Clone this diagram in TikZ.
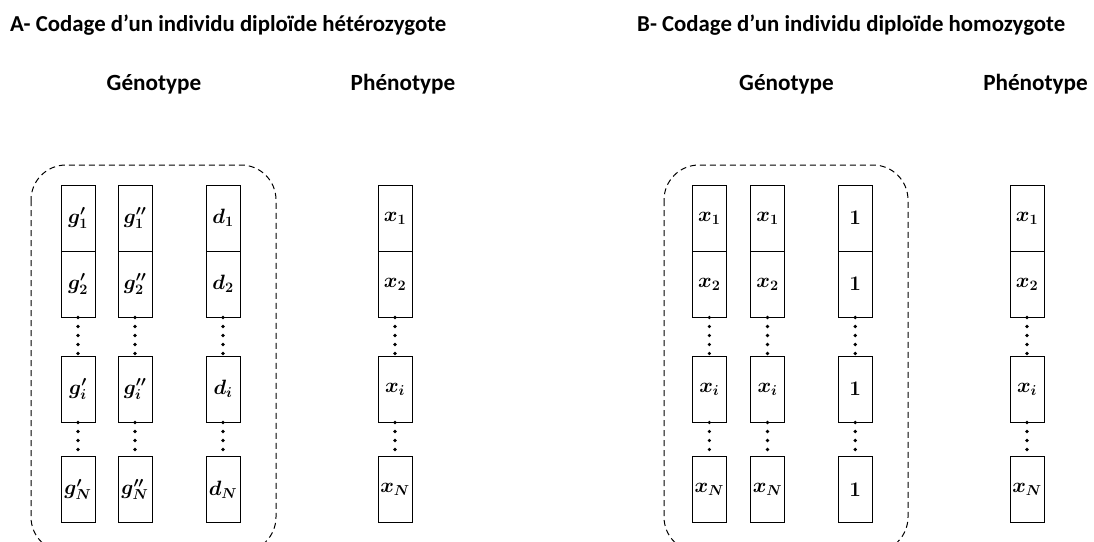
\documentclass[tikz,border=0pt]{standalone}
\usepackage{fontspec}
\setmainfont{Carlito}
\usepackage{bm}
\tikzset{
  cell/.style={draw, line width=1pt, minimum width=34pt, minimum height=66pt, inner sep=0pt, font=\fontsize{22}{26}\selectfont},
  dotline/.style={line width=3.6pt, line cap=round, dash pattern=on 0pt off 9pt},
  group/.style={draw, line width=1pt, dash pattern=on 6pt off 4pt, rounded corners=35pt},
  title/.style={font=\fontsize{22.8}{27}\selectfont\bfseries, anchor=west, inner sep=0pt},
  head/.style={font=\fontsize{23.2}{27}\selectfont\bfseries, inner sep=0pt}
}
\newcommand\mkcol[6]{%
  \node[cell] (#1a) at (#2,-218) {$#3$};
  \node[cell] (#1b) at (#2,-284) {$#4$};
  \node[cell] (#1c) at (#2,-389) {$#5$};
  \node[cell] (#1d) at (#2,-489.5) {$#6$};
  \draw[dotline] (#1b.south) -- (#1c.north);
  \draw[dotline] (#1c.south) -- (#1d.north);
}
\begin{document}
\begin{tikzpicture}[x=1pt,y=1pt]
\useasboundingbox (0,0) rectangle (1094,-541);
\clip (0,0) rectangle (1094,-541);
\fill[white] (0,0) rectangle (1094,-541);
% titles
\node[title] (tA) at (10,-25) {A- Codage d’un individu diploïde hétérozygote};
\node[title] (tB) at (637,-25) {B- Codage d’un individu diploïde homozygote};
\node[head] (gA) at (154,-84) {Génotype};
\node[head] (pA) at (403,-84) {Phénotype};
\node[head] (gB) at (786.5,-84) {Génotype};
\node[head, anchor=east] (pB) at (1088,-84) {Phénotype};
% groups
\draw[group] (31,-165) rectangle (276,-552);
\draw[group] (664,-165) rectangle (908,-552);
% panel A
\mkcol{a1}{78}{\bm{g'_1}}{\bm{g'_2}}{\bm{g'_i}}{\bm{g'_N}}
\mkcol{a2}{135}{\bm{g''_1}}{\bm{g''_2}}{\bm{g''_i}}{\bm{g''_N}}
\mkcol{a3}{223}{\bm{d_1}}{\bm{d_2}}{\bm{d_i}}{\bm{d_N}}
\mkcol{a4}{395}{\bm{x_1}}{\bm{x_2}}{\bm{x_i}}{\bm{x_N}}
% panel B
\mkcol{b1}{709.3}{\bm{x_1}}{\bm{x_2}}{\bm{x_i}}{\bm{x_N}}
\mkcol{b2}{767.5}{\bm{x_1}}{\bm{x_2}}{\bm{x_i}}{\bm{x_N}}
\mkcol{b3}{855.2}{\bm{1}}{\bm{1}}{\bm{1}}{\bm{1}}
\mkcol{b4}{1027}{\bm{x_1}}{\bm{x_2}}{\bm{x_i}}{\bm{x_N}}
\end{tikzpicture}
\end{document}
